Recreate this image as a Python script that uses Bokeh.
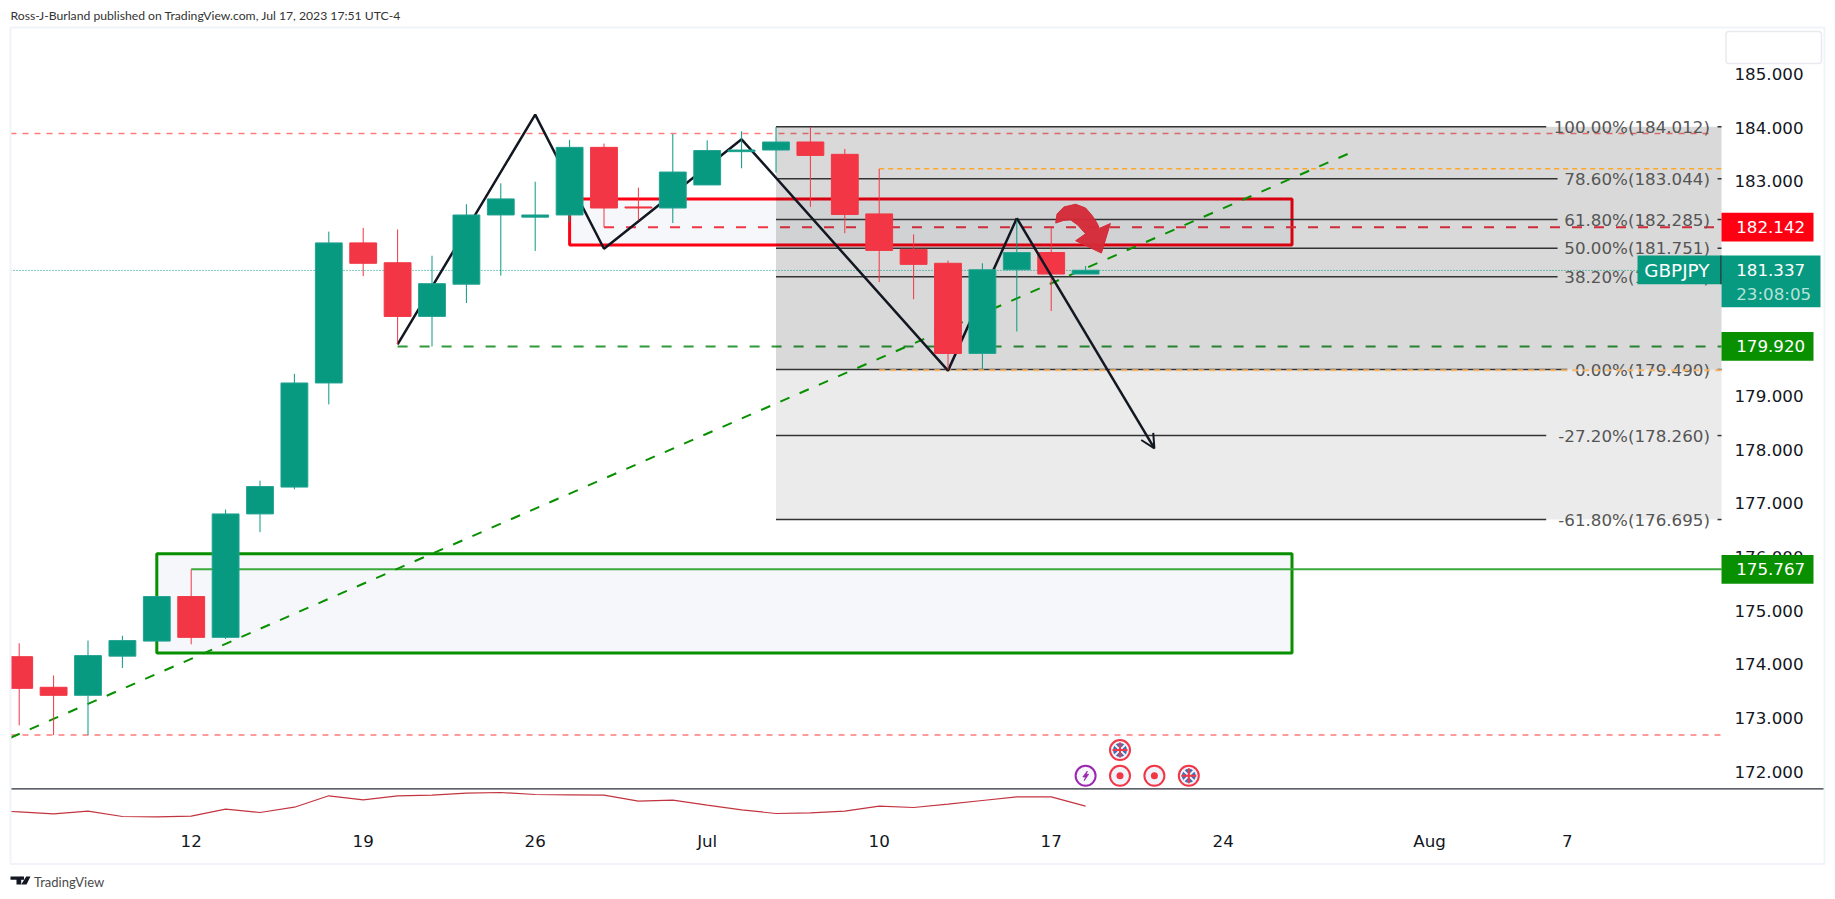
from bokeh.plotting import figure
from bokeh.models import Range1d, FixedTicker, NumeralTickFormatter, Arrow, OpenHead, ColumnDataSource
from bokeh.core.properties import value
from bokeh.embed import file_html
from bokeh.resources import INLINE

# ---- candles (bar index 0 = 12 June, business days) ----
idx    = list(range(-5, 27))
opens  = [174.14,173.57,173.42,174.15,174.43,175.26,174.50,176.80,177.30,179.24,181.85,181.48,180.48,181.08,182.37,182.33,182.37,183.63,182.52,182.50,182.93,183.55,183.58,183.73,183.50,182.39,181.73,181.47,179.79,181.35,181.67,181.27]
highs  = [174.39,173.79,174.44,174.53,175.26,175.767,176.88,177.42,179.41,182.06,182.13,182.10,181.61,182.57,182.96,182.99,183.77,183.70,182.88,183.88,183.76,183.93,184.01,184.01,183.60,183.23,182.01,181.52,181.47,182.31,182.14,181.42]
lows   = [172.86,172.68,172.68,173.93,174.43,174.37,174.47,176.46,177.26,178.84,181.23,179.96,179.92,180.73,181.24,181.70,182.24,182.142,182.27,182.22,182.93,183.24,183.16,182.52,182.03,181.12,180.80,179.49,179.50,180.20,180.58,181.27]
closes = [173.55,173.42,174.16,174.44,175.26,174.50,176.80,177.31,179.24,181.85,181.47,180.48,181.09,182.37,182.67,182.37,183.63,182.50,182.50,183.17,183.57,183.58,183.73,183.48,182.38,181.71,181.45,179.79,181.35,181.67,181.27,181.34]

# ---- lower indicator pane (arbitrary scale, 0 = bottom of pane) ----
ind_x = [-5.25] + list(range(-5, 27))
ind_v = [14.0,13.7,11.7,14.3,9.0,8.7,9.3,16.3,13.0,18.3,29.7,25.7,29.7,30.3,32.3,33.0,31.0,30.7,30.3,24.3,25.3,20.3,15.7,12.0,12.7,14.3,19.3,18.0,21.3,25.0,28.7,28.7,19.3]

# ---- axes ----
y_ticks = list(range(172, 186))
x_ticks = [0, 5, 10, 15, 20, 25, 30, 36, 40]
x_labels = ["12", "19", "26", "Jul", "10", "17", "24", "Aug", "7"]

# ---- fibonacci ----
fib_left = 17
fib_levels = [184.012, 183.044, 182.285, 181.751, 181.217, 179.49, 178.26, 176.695]
fib_texts = ["100.00%(184.012)", "78.60%(183.044)", "61.80%(182.285)", "50.00%(181.751)",
             "38.20%(181.217)", "0.00%(179.490)", "-27.20%(178.260)", "-61.80%(176.695)"]
fib_gap_start = [39.39, 39.72, 39.72, 39.72, 39.72, 40.0, 39.39, 39.39]

# ---- drawings ----
zig_x = [6, 10, 12, 16, 22, 24]
zig_y = [179.96, 184.24, 181.74, 183.78, 179.47, 182.31]
arrow_end = (28, 178.02)
trend_x = [-5.253, 33.7]
trend_y = [172.63, 183.53]
curve_x = [25.13,25.17,25.37,25.71,26.0,26.19,26.34,26.40,26.72,26.46,25.71,26.0,25.76,25.56,25.37]
curve_y = [182.22,182.39,182.52,182.57,182.50,182.36,182.21,182.12,182.21,181.66,181.89,182.02,182.19,182.28,182.27]
bolt_x = [26.05,25.92,26.0,25.96,26.09,26.02]
bolt_y = [172.01,171.90,171.90,171.83,171.95,171.95]

PW, PH = 1835, 899
def X(px): return (px - 190.7) / 34.4      # page pixel -> bar index
def Y(py): return 184 - (py - 127) / 53.67 # page pixel -> price

XL, XR = X(10), X(1721)
FONT = "DejaVu Sans"
UP, DOWN = "#089981", "#f23645"
LGREEN = "#089000"

p = figure(frame_width=PW, frame_height=PH, min_border_left=0, min_border_top=0,
           min_border_right=0, min_border_bottom=0, x_range=Range1d(X(0), X(PW)), y_range=Range1d(Y(PH), Y(0)),
           x_axis_location="below", y_axis_location="right", toolbar_location=None, output_backend="svg",
           background_fill_color="white", border_fill_color="white", outline_line_color=None)
p.extra_y_ranges = {"ind": Range1d(825 - PH, 825)}
p.grid.visible = False

for ax in (p.xaxis[0], p.yaxis[0]):
    ax.axis_line_color = None
    ax.major_tick_line_color = None
    ax.minor_tick_line_color = None
    ax.major_tick_out = 0
    ax.major_tick_in = 0
    ax.minor_tick_out = 0
    ax.minor_tick_in = 0
    ax.major_label_text_font = FONT
    ax.major_label_text_font_size = "16.7px"
    ax.major_label_text_color = "#131722"
p.yaxis[0].ticker = FixedTicker(ticks=y_ticks)
p.yaxis[0].formatter = NumeralTickFormatter(format="0.000")
p.yaxis[0].major_label_standoff = 13
p.yaxis[0].fixed_location = XR
p.xaxis[0].ticker = FixedTicker(ticks=x_ticks)
p.xaxis[0].major_label_overrides = dict(zip(x_ticks, x_labels))
p.xaxis[0].major_label_standoff = 5
p.xaxis[0].fixed_location = Y(825)

# boxes (below the fib shade)
p.quad(left=[11], right=[32], top=[182.67], bottom=[181.81], fill_color="#375f9b", fill_alpha=0.05,
       line_color="#ff0013", line_width=3)
p.quad(left=[-1], right=[32], top=[176.06], bottom=[174.21], fill_color="#375f9b", fill_alpha=0.05,
       line_color=LGREEN, line_width=3)

# horizontal levels
p.line([XL, 44.15], [183.888, 183.888], line_color="#ff7b7b", line_width=1.5, line_dash="6 6")
p.line([XL, XR], [172.68, 172.68], line_color="#ff7b7b", line_width=1.5, line_dash="6 6")
p.line([12, XR], [182.142, 182.142], line_color=DOWN, line_width=2, line_dash="10 12")
p.line([6, XR], [179.92, 179.92], line_color="#2f9a3a", line_width=2, line_dash="10 12")
p.line([0, XR], [175.767, 175.767], line_color="#3aa83a", line_width=2)

# fib shade
p.quad(left=[fib_left], right=[XR], top=[184.012], bottom=[179.49], fill_color="black", fill_alpha=0.15, line_color=None)
p.quad(left=[fib_left], right=[XR], top=[179.49], bottom=[176.695], fill_color="black", fill_alpha=0.08, line_color=None)
p.segment(x0=[fib_left]*8, x1=fib_gap_start, y0=fib_levels, y1=fib_levels, line_color="#333333", line_width=1.5)
p.segment(x0=[44.37]*8, x1=[XR]*8, y0=fib_levels, y1=fib_levels, line_color="#333333", line_width=1.5)
p.text(x=[44.15]*8, y=fib_levels, text=fib_texts, text_align="right", text_baseline="middle",
       text_font=value(FONT), text_font_size="16.7px", text_color="#555555")

# orange range lines sit above the shade
p.line([20, XR], [183.23, 183.23], line_color="#ffa726", line_width=1.5, line_dash="5 4")
p.line([20, XR], [179.478, 179.478], line_color="#f7b568", line_width=2, line_dash="6 5")

# trend / zigzag / arrow
p.line(trend_x, trend_y, line_color=LGREEN, line_width=2, line_dash="10 11")
p.line([XL, XR], [181.337, 181.337], line_color=UP, line_width=1, line_dash="1 2")
p.line(zig_x, zig_y, line_color="#131722", line_width=2.5)
p.add_layout(Arrow(end=OpenHead(size=14, line_color="#131722", line_width=2), x_start=zig_x[-1], y_start=zig_y[-1],
                   x_end=arrow_end[0], y_end=arrow_end[1], line_color="#131722", line_width=2.5, level="glyph"))

# candles
src = ColumnDataSource(dict(x=idx, o=opens, h=highs, l=lows, c=closes,
                            top=[max(a, b) for a, b in zip(opens, closes)],
                            bot=[min(a, b) for a, b in zip(opens, closes)],
                            col=[UP if c >= o else DOWN for o, c in zip(opens, closes)],
                            edge=["#22a392" if c >= o else DOWN for o, c in zip(opens, closes)]))
p.segment(x0="x", x1="x", y0="l", y1="h", line_color="col", line_width=1, source=src)
p.vbar(x="x", width=0.78, top="top", bottom="bot", fill_color="col", line_color="edge", line_width=1, source=src)

# white margin left of the chart frame
p.quad(left=[X(0)], right=[XL], top=[Y(0)], bottom=[Y(PH)], fill_color="white", line_color=None)

# hand drawn curved arrow
p.patch(curve_x, curve_y, fill_color="#d52a38", fill_alpha=0.97, line_color="#d52a38", line_width=1)

# event icons
ICON = "#f23645"
flag_x, flag_y = [27, 29], [172.40, 171.92]
p.scatter(flag_x, flag_y, size=20, fill_color="#f0f3fa", line_color=ICON, line_width=2)
p.scatter(flag_x, flag_y, size=14, fill_color="#3f6fb5", line_color=None)
p.scatter(flag_x, flag_y, size=15, marker="x", line_color="#f0f3fa", line_width=2)
p.scatter(flag_x, flag_y, size=15, marker="cross", line_color=ICON, line_width=2)
p.scatter([27, 28], [171.92, 171.92], size=20, fill_color="#f0f3fa", line_color=ICON, line_width=2)
p.scatter([27, 28], [171.92, 171.92], size=7, fill_color=ICON, line_color=None)
p.scatter([26], [171.92], size=20, fill_color="#f7f8fb", line_color="#9c27b0", line_width=2)
p.patch(bolt_x, bolt_y, fill_color="#9c27b0", line_color="#9c27b0", line_width=0.8)

# indicator
p.line(ind_x, ind_v, y_range_name="ind", line_color="#c2343f", line_width=1.2)

# pane separator and outer frame
p.quad(left=[XL], right=[X(1824.5)], top=[Y(787.8)], bottom=[Y(789)], fill_color="#2a2e39", line_color=None, level="annotation")
p.quad(left=[XL], right=[X(1824)], top=[Y(27)], bottom=[Y(863.5)], fill_alpha=0, line_color="#f0f3fa", line_width=2, level="annotation")
p.quad(left=[X(1725.5)], right=[X(1821)], top=[Y(31)], bottom=[Y(63)], fill_color="white",
       line_color="#e8eaef", line_width=1.5, border_radius=3, level="annotation")


def tag(txt, v, bg, x0=1721, x1=1813, top=None, bottom=None, tx=1735.7, color="white", size="16.7px"):
    cy = 127 + (184 - v) * 53.67
    t = cy - 14.4 if top is None else top
    b = cy + 14.4 if bottom is None else bottom
    if bg:
        p.quad(left=[X(x0)], right=[X(x1)], top=[Y(t)], bottom=[Y(b)], fill_color=bg, line_color=None, level="annotation")
    p.text(x=[X(tx)], y=[v], text=[txt], text_font=value(FONT), text_font_size=size, text_color=color,
           text_align="left", text_baseline="middle", level="annotation")


tag("182.142", 182.142, "#ff0013")
tag("179.920", 179.92, LGREEN)
tag("175.767", 175.767, LGREEN)
tag("181.337", 181.337, UP, x1=1820, top=255, bottom=306.7)
tag("GBPJPY", 181.337, UP, x0=1637, x1=1721, top=255, bottom=283.7, tx=1643.7, size="18.4px")
p.segment(x0=[X(1720.5)], x1=[X(1720.5)], y0=[Y(255)], y1=[Y(283.7)], line_color="#131722", line_width=1, level="annotation")
p.text(x=[X(1735.7)], y=[Y(293)], text=["23:08:05"], text_font=value(FONT), text_font_size="16.7px", text_color="#b5e3d8",
       text_align="left", text_baseline="middle", level="annotation")

# header / footer
p.text(x=[X(10)], y=[Y(15)], text=["Ross-J-Burland published on TradingView.com, Jul 17, 2023 17:51 UTC-4"],
       text_font=value("Lato"), text_font_size="12.2px", text_color="#333333", text_baseline="middle", level="annotation")
p.text(x=[X(33.5)], y=[Y(881.5)], text=["TradingView"], text_font=value("Lato"), text_font_size="13px", text_color="#4a4a4a",
       text_baseline="middle", level="annotation")

# logo
logo_xs = [[10, 20.7, 20.7, 16, 16, 10], [25.7, 30, 26, 20.7], [20, 23.5, 23.5, 20]]
logo_ys = [[876, 876, 884, 884, 879.3, 879.3], [876, 876, 884, 884], [876, 876, 879.3, 879.3]]
p.patches([[X(a) for a in xs] for xs in logo_xs], [[Y(b) for b in ys] for ys in logo_ys],
          fill_color="#131722", line_color=None, level="annotation")

open("out.html", "w").write(file_html(p, INLINE))
